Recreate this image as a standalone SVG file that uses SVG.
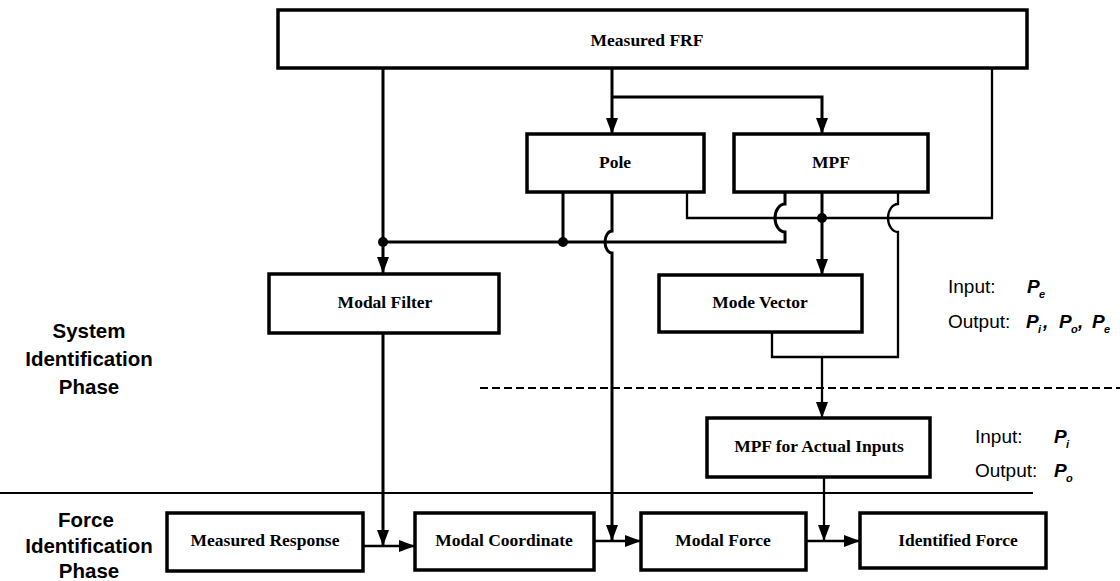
<svg xmlns="http://www.w3.org/2000/svg" width="1120" height="581" viewBox="0 0 1120 581">
<style>
.box{fill:#fff;stroke:#000;stroke-width:3.5}
.lbl{font-family:"Liberation Serif","Times New Roman",serif;font-weight:bold;font-size:17.5px;text-anchor:middle;fill:#000}
.ln{fill:none;stroke:#000;stroke-width:3}
.thin{fill:none;stroke:#000;stroke-width:2.3}
.phase{font-family:"Liberation Sans",Arial,sans-serif;font-weight:900;font-size:20.5px;text-anchor:middle;fill:#000}
.io{font-family:"Liberation Sans",Arial,sans-serif;font-size:19px;fill:#000}
.p{font-family:"Liberation Sans",Arial,sans-serif;font-size:19px;font-weight:bold;font-style:italic;fill:#000}
.sub{font-family:"Liberation Sans",Arial,sans-serif;font-size:11px;font-weight:bold;font-style:italic;fill:#000}
</style>
<defs>
<marker id="ah" markerUnits="userSpaceOnUse" markerWidth="16" markerHeight="12" refX="16" refY="6" orient="auto">
<path d="M0,0 L16,6 L0,12 z" fill="#000"/>
</marker>
</defs>
<rect width="1120" height="581" fill="#fff"/>

<g id="separators">
<line x1="480" y1="388" x2="1120" y2="388" stroke="#000" stroke-width="2" stroke-dasharray="8 4"/>
<line x1="0" y1="493" x2="1033" y2="493" stroke="#000" stroke-width="2"/>
</g>

<g id="connectors">
<path class="ln" d="M383,68 V273" marker-end="url(#ah)"/>
<path class="ln" d="M563,192 V242"/>
<path class="ln" d="M383,242 H785 V232 A10,14 0 0 1 785,204 V192"/>
<path class="ln" d="M612,68 V134" marker-end="url(#ah)"/>
<path class="ln" d="M612,97 H822 V134" marker-end="url(#ah)"/>
<path class="ln" d="M612,192 V231 A7,11 0 0 0 612,253 V541" marker-end="url(#ah)"/>
<path class="thin" d="M687,192 V218 H992 V68"/>
<path class="ln" d="M822,192 V275" marker-end="url(#ah)"/>
<path class="thin" d="M898,192 V204 A10,14 0 0 0 898,232 V357 H772 V332"/>
<path class="thin" d="M822,357 V418" marker-end="url(#ah)"/>
<path class="thin" d="M824,477 V541" marker-end="url(#ah)"/>
<path class="ln" d="M383,333 V546" marker-end="url(#ah)"/>
<path class="thin" d="M363,546 H415" marker-end="url(#ah)"/>
<path class="thin" d="M594,541 H641" marker-end="url(#ah)"/>
<path class="thin" d="M806,541 H860" marker-end="url(#ah)"/>
<circle cx="383" cy="242" r="5"/>
<circle cx="563" cy="242" r="5"/>
<circle cx="822" cy="218" r="5"/>
</g>

<g id="measured-frf"><rect class="box" x="278" y="10" width="749" height="58"/><text class="lbl" x="647" y="46">Measured FRF</text></g>
<g id="pole"><rect class="box" x="527" y="134" width="177" height="58"/><text class="lbl" x="615" y="168">Pole</text></g>
<g id="mpf"><rect class="box" x="734" y="134" width="194" height="58"/><text class="lbl" x="831" y="168">MPF</text></g>
<g id="modal-filter"><rect class="box" x="269" y="274" width="230" height="59"/><text class="lbl" x="385" y="308">Modal Filter</text></g>
<g id="mode-vector"><rect class="box" x="659" y="275" width="203" height="57"/><text class="lbl" x="760" y="308">Mode Vector</text></g>
<g id="mpf-actual"><rect class="box" x="707" y="418" width="223" height="59"/><text class="lbl" x="819" y="452">MPF for Actual Inputs</text></g>
<g id="measured-response"><rect class="box" x="167" y="513" width="196" height="58"/><text class="lbl" x="265" y="546">Measured Response</text></g>
<g id="modal-coordinate"><rect class="box" x="415" y="513" width="179" height="57"/><text class="lbl" x="504" y="546">Modal Coordinate</text></g>
<g id="modal-force"><rect class="box" x="641" y="513" width="165" height="57"/><text class="lbl" x="723" y="546">Modal Force</text></g>
<g id="identified-force"><rect class="box" x="860" y="513" width="186" height="55"/><text class="lbl" x="958" y="546">Identified Force</text></g>

<g id="phase-labels">
<text class="phase" x="89" y="338">System</text>
<text class="phase" x="89" y="366">Identification</text>
<text class="phase" x="89" y="394">Phase</text>
<text class="phase" x="86" y="527">Force</text>
<text class="phase" x="89" y="553">Identification</text>
<text class="phase" x="89" y="578">Phase</text>
</g>

<g id="io-labels">
<text class="io" x="948" y="293">Input:</text>
<text class="p" x="1027" y="293">P</text><text class="sub" x="1039" y="298">e</text>
<text class="io" x="948" y="328">Output:</text>
<text class="p" x="1026" y="328">P</text><text class="sub" x="1038" y="333">i</text><text class="p" x="1043" y="328">,</text>
<text class="p" x="1059" y="328">P</text><text class="sub" x="1071" y="333">o</text><text class="p" x="1078" y="328">,</text>
<text class="p" x="1092" y="328">P</text><text class="sub" x="1104" y="333">e</text>
<text class="io" x="975" y="443">Input:</text>
<text class="p" x="1054" y="443">P</text><text class="sub" x="1066" y="448">i</text>
<text class="io" x="975" y="477">Output:</text>
<text class="p" x="1054" y="477">P</text><text class="sub" x="1066" y="482">o</text>
</g>
</svg>
